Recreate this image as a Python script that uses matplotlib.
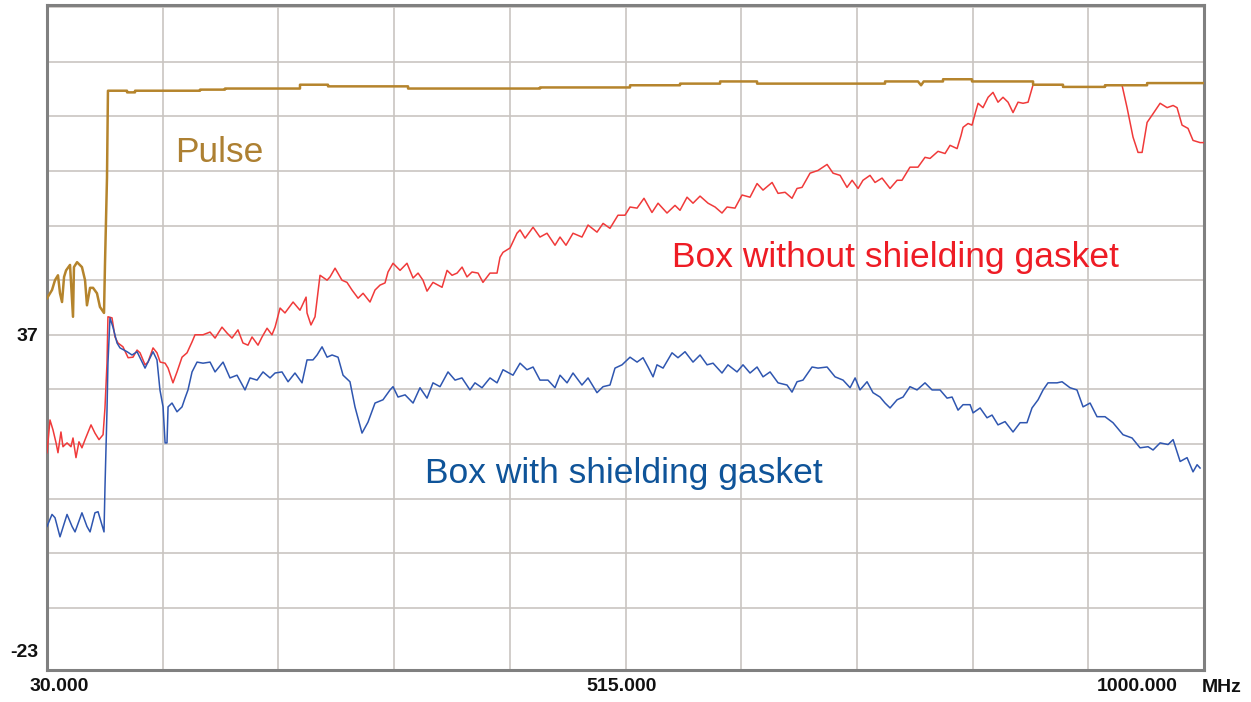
import numpy as np
from matplotlib import pyplot as plt
from matplotlib import transforms


## data (frequency in MHz, level in dB)
pulseFreq = [30.0, 34.2, 36.7, 39.2, 40.9, 42.6, 44.3, 46.0, 49.3, 51.8, 52.6, 55.2, 59.3, 61.9,
             63.5, 66.1, 68.6, 71.9, 74.4, 77.8, 78.6, 80.3, 81.1,
             97.1, 97.1, 103.8, 103.8, 158.3, 158.3, 179.2, 179.2, 242.1, 242.1, 265.6, 265.6,
             332.7, 332.7, 443.3, 443.3, 518.8, 518.8, 560.7, 560.7, 594.3, 594.3, 625.3, 625.3,
             732.6, 732.6, 760.2, 762.8, 765.0, 781.2, 781.2, 805.5, 805.5, 856.7, 856.7,
             881.8, 881.8, 917.0, 917.0, 952.3, 952.3, 1000.0]
pulseLevel = [43.7, 45.2, 47.0, 47.9, 44.6, 43.0, 47.6, 48.8, 49.8, 40.3, 49.4, 50.3, 49.4, 47.0,
              42.4, 45.6, 45.6, 44.6, 42.1, 41.0, 49.8, 65.8, 81.7,
              81.7, 81.4, 81.4, 81.7, 81.7, 81.9, 81.9, 82.1, 82.1, 82.8, 82.8, 82.5,
              82.5, 82.1, 82.1, 82.3, 82.3, 82.7, 82.7, 83.0, 83.0, 83.4, 83.4, 83.0,
              83.0, 83.4, 83.4, 82.7, 83.4, 83.4, 83.8, 83.8, 83.4, 83.4, 82.8,
              82.8, 82.4, 82.4, 82.7, 82.7, 83.1, 83.1]

redFreq = [30.0, 32.5, 35.0, 37.6, 39.2, 41.7, 43.4, 46.8, 50.1, 51.8, 54.3, 56.8, 59.3, 61.9,
           66.9, 70.2, 73.6, 77.0, 78.6, 80.3, 81.1, 84.5, 87.0, 89.5, 93.7, 98.0, 102.1, 105.5,
           108.0, 112.2, 114.7, 118.9, 122.2, 124.9, 129.0, 131.5, 135.6, 139.0, 143.2, 147.4,
           151.6, 154.1, 160.8, 166.7, 170.9, 176.7, 181.0, 185.1, 190.1, 194.3, 198.5, 201.9,
           206.9, 210.3, 214.5, 218.6, 221.2, 225.4, 229.5, 236.3, 242.1, 247.2, 248.0, 251.3,
           254.7, 258.9, 264.8, 267.3, 271.5, 277.3, 281.5, 285.7, 290.8, 295.0, 300.8, 305.0,
           309.2, 313.4, 315.9, 320.1, 326.0, 331.8, 336.9, 341.1, 345.2, 348.6, 353.6, 361.2,
           365.4, 369.6, 373.8, 378.0, 382.1, 386.3, 391.4, 395.5, 401.4, 407.3, 409.8, 412.3,
           418.2, 424.0, 426.6, 430.8, 437.5, 443.3, 449.2, 455.9, 460.1, 465.1, 471.0, 478.5,
           483.6, 491.1, 496.2, 502.0, 508.7, 514.6, 518.8, 524.7, 530.5, 537.2, 542.3, 549.8,
           556.5, 560.7, 566.6, 571.6, 577.5, 584.2, 590.1, 595.9, 600.1, 606.8, 612.7, 619.4,
           625.3, 630.3, 637.9, 642.9, 648.8, 654.6, 658.8, 663.0, 669.7, 676.4, 684.0, 689.0,
           694.9, 700.7, 705.0, 710.0, 714.1, 720.0, 724.2, 730.1, 736.8, 742.7, 746.8, 753.5,
           760.2, 766.1, 770.3, 777.0, 782.9, 787.1, 793.0, 796.3, 798.0, 802.2, 805.5, 808.1,
           810.6, 814.7, 819.0, 823.1, 827.3, 831.5, 835.7, 839.9, 844.1, 848.3, 852.5, 856.7,
           881.8, 881.8, 917.0, 917.0, 929.6, 931.3, 935.5, 940.5, 944.7, 948.1, 952.3, 956.4,
           963.2, 969.1, 974.1, 977.4, 981.6, 986.6, 990.8, 996.7, 1000.0]
redLevel = [15.4, 21.4, 19.6, 17.2, 15.4, 19.2, 16.5, 17.2, 16.5, 18.1, 14.5, 17.4, 16.3, 17.8,
            20.5, 19.0, 17.8, 18.7, 23.6, 31.8, 40.3, 40.1, 36.6, 35.5, 34.8, 32.8, 32.9, 34.2,
            33.7, 31.5, 32.0, 34.6, 33.7, 32.0, 31.8, 30.9, 28.2, 30.2, 32.9, 33.7,
            35.7, 37.0, 37.0, 37.5, 36.4, 38.4, 37.3, 36.4, 37.9, 35.5, 35.1, 36.6,
            35.1, 36.6, 38.2, 37.0, 38.4, 41.9, 41.0, 43.0, 41.5, 43.9, 41.0, 38.8,
            40.3, 47.9, 47.0, 47.6, 49.2, 47.0, 46.6, 45.2, 43.7, 44.6, 43.0, 45.2,
            46.1, 46.5, 48.5, 50.1, 48.8, 50.1, 47.4, 48.3, 47.0, 45.0, 46.6, 45.7,
            48.8, 47.9, 48.3, 49.4, 47.6, 48.5, 48.3, 46.6, 48.3, 48.3, 51.2, 52.1,
            52.9, 55.6, 56.2, 54.7, 56.7, 54.9, 55.6, 53.4, 54.9, 53.4, 55.6, 54.9,
            57.1, 55.8, 57.4, 56.5, 58.9, 58.9, 60.4, 60.2, 62.0, 59.4, 61.1, 59.3,
            60.7, 59.8, 62.2, 61.1, 62.4, 61.1, 60.4, 59.3, 60.4, 60.2, 62.6, 62.2,
            64.7, 63.5, 64.9, 62.9, 63.1, 62.0, 63.8, 64.0, 66.6, 67.1, 68.2, 66.6,
            66.2, 64.0, 65.3, 63.8, 65.3, 66.2, 64.9, 65.7, 63.8, 65.3, 65.3, 67.7,
            67.7, 69.5, 69.3, 70.6, 70.2, 71.7, 71.1, 73.5, 75.0, 75.7, 75.4, 77.5,
            79.4, 78.6, 80.5, 81.4, 79.6, 80.5, 79.6, 77.7, 79.6, 79.4, 79.6, 82.8,
            82.8, 82.4, 82.4, 82.7, 82.7, 82.7, 78.6, 73.2, 70.4, 70.4, 75.9, 77.2,
            79.4, 78.6, 79.0, 78.6, 75.4, 74.8, 72.6, 72.2, 72.2]

blueFreq = [30.0, 34.2, 36.7, 40.9, 46.8, 51.0, 53.5, 59.3, 63.5, 66.1, 70.2, 72.8, 76.1, 77.8,
            78.6, 80.3, 81.1, 82.8, 85.3, 88.7, 91.2, 97.1, 101.3, 105.5, 109.7, 112.2, 116.4,
            118.9, 122.2, 124.7, 127.3, 129.0, 130.6, 131.5, 134.8, 139.0, 143.2, 145.7, 148.2,
            151.6, 155.8, 160.8, 166.7, 170.9, 177.6, 183.4, 189.3, 196.0, 200.2, 206.1, 211.1,
            217.0, 221.2, 227.0, 232.1, 237.9, 243.8, 248.0, 253.0, 256.4, 260.6, 264.8, 269.0,
            274.0, 278.2, 284.0, 288.2, 294.1, 299.1, 305.0, 311.7, 317.6, 320.1, 324.3, 330.2,
            336.9, 342.7, 348.6, 353.6, 359.5, 366.2, 372.1, 377.9, 384.6, 388.8, 394.7, 401.4,
            407.3, 412.3, 415.7, 420.7, 426.6, 432.4, 437.5, 443.3, 450.0, 455.9, 460.1, 466.0,
            471.0, 478.5, 483.6, 491.1, 496.2, 502.0, 506.2, 512.1, 518.8, 524.7, 529.7, 533.9,
            538.1, 541.4, 546.5, 554.0, 559.0, 564.9, 571.6, 577.5, 583.4, 588.4, 595.9, 600.9,
            608.5, 613.5, 619.4, 625.3, 630.3, 636.2, 642.9, 650.4, 654.6, 658.8, 663.8, 671.4,
            676.4, 684.0, 690.7, 697.4, 703.3, 707.5, 711.6, 717.5, 722.5, 728.4, 732.6, 736.8,
            742.7, 747.7, 753.5, 759.4, 766.1, 772.0, 778.7, 784.6, 788.8, 793.8, 798.0, 803.9,
            806.4, 812.3, 818.1, 822.3, 827.3, 833.2, 839.9, 845.8, 851.6, 855.8, 860.9, 865.1,
            869.2, 876.8, 881.0, 887.7, 893.5, 898.6, 904.5, 910.3, 917.0, 923.7, 932.1, 939.7,
            946.4, 953.1, 957.3, 963.2, 969.9, 974.1, 980.0, 985.8, 990.8, 994.2, 996.7]
blueLevel = [1.9, 4.1, 3.5, 0.0, 4.1, 1.9, 0.9, 4.4, 1.9, 0.9, 4.4, 4.6, 2.2, 0.9,
             9.0, 23.2, 31.8, 40.1, 38.4, 35.5, 34.6, 33.9, 33.3, 33.9, 32.0, 30.9, 32.8,
             33.9, 32.4, 26.9, 23.8, 17.2, 17.2, 23.8, 24.5, 22.9, 23.8, 25.4, 26.9,
             30.2, 32.0, 31.8, 32.0, 30.2, 32.0, 29.1, 29.6, 26.9, 29.1, 28.7, 30.2,
             29.1, 30.0, 30.2, 28.4, 30.0, 28.2, 32.4, 32.4, 33.3, 34.8, 32.9, 33.3,
             32.9, 29.6, 28.4, 23.8, 19.0, 21.0, 24.5, 25.1, 26.9, 27.5, 25.6, 26.0,
             24.5, 27.3, 25.4, 28.2, 27.5, 30.2, 28.7, 29.1, 26.9, 28.2, 27.3, 29.1,
             28.2, 30.6, 30.2, 29.6, 31.8, 30.6, 31.1, 28.7, 28.7, 27.3, 29.6, 28.2,
             30.0, 27.8, 29.1, 26.4, 27.5, 27.8, 30.9, 31.5, 32.9, 32.0, 32.8, 31.1,
             29.3, 31.5, 30.9, 33.7, 32.8, 33.9, 32.0, 33.3, 31.5, 31.8, 30.0, 31.5,
             30.2, 31.5, 30.0, 31.1, 29.3, 30.2, 28.2, 27.8, 26.5, 28.4, 28.7, 31.1,
             30.9, 31.1, 29.3, 28.7, 27.3, 29.1, 26.9, 28.4, 26.4, 25.6, 24.5, 23.6,
             25.1, 25.6, 27.5, 26.9, 28.2, 26.9, 26.9, 25.4, 25.6, 23.2, 24.2, 24.2,
             22.7, 23.6, 21.8, 22.3, 20.5, 21.1, 19.2, 20.9, 20.9, 23.6, 25.1, 26.9,
             28.2, 28.2, 28.4, 27.3, 26.9, 23.8, 24.5, 22.0, 22.0, 20.9, 18.7, 18.1,
             16.3, 16.5, 15.9, 17.2, 16.9, 17.8, 13.8, 14.5, 11.9, 13.2, 12.6]

xTicks = [30, 127, 224, 321, 418, 515, 612, 709, 806, 903, 1000]
xTickLabels = ['30.000', '', '', '', '', '515.000', '', '', '', '', '1000.000']
yTicks = [-23, -13, -3, 7, 17, 27, 37, 47, 57, 67, 77, 87, 97]
yTickLabels = ['-23', '', '', '', '', '', '37', '', '', '', '', '', '']


## figure
fig = plt.figure(figsize=(12.51, 7.02), dpi=100)
ax = fig.add_axes([47/1251, 1 - 669.5/702, (1204 - 47)/1251, (669.5 - 5)/702])
ax.set_xlim(30, 1000)
ax.set_ylim(-24.3, 97.4)

gridColor = '#c9c5c1'
ax.set_xticks(xTicks)
ax.set_xticklabels(xTickLabels)
ax.set_yticks(yTicks)
ax.set_yticklabels(yTickLabels)
ax.grid(True, color=gridColor, linewidth=1.2)
ax.get_ygridlines()[0].set_visible(False)
ax.set_axisbelow(True)
ax.tick_params(length=0, labelsize=14, pad=6)
for lab in ax.get_xticklabels() + ax.get_yticklabels():
    lab.set_fontfamily('Liberation Sans')
    lab.set_fontweight('bold')
    lab.set_color('#111111')

# nudge tick labels like the analyser software does
xLabs = ax.get_xticklabels()
xLabs[0].set_ha('left')
xLabs[0].set_transform(xLabs[0].get_transform() + transforms.ScaledTranslation(-17/100, 0, fig.dpi_scale_trans))
xLabs[5].set_transform(xLabs[5].get_transform() + transforms.ScaledTranslation(-4/100, 0, fig.dpi_scale_trans))
xLabs[10].set_ha('right')
xLabs[10].set_transform(xLabs[10].get_transform() + transforms.ScaledTranslation(-26/100, 0, fig.dpi_scale_trans))
yLabs = ax.get_yticklabels()
yLabs[0].set_transform(yLabs[0].get_transform() + transforms.ScaledTranslation(0, 12/100, fig.dpi_scale_trans))

for spine in ax.spines.values():
    spine.set_color('#808080')
    spine.set_linewidth(2.2)

ax.annotate('MHz', xy=(1, 0), xycoords='axes fraction', xytext=(-2, -9),
            textcoords='offset pixels', ha='left', va='top', fontsize=14,
            fontweight='bold', family='Liberation Sans', color='#111111')

# traces
ax.plot(redFreq, redLevel, color='#f03a3a', linewidth=1.1, zorder=3)
ax.plot(blueFreq, blueLevel, color='#2f56b0', linewidth=1.1, zorder=3)
ax.plot(pulseFreq, pulseLevel, color='#b5842c', linewidth=1.8, zorder=4)

# labels
ax.text(137.3, 70.4, 'Pulse', color='#ad8032', fontsize=25.5, family='Liberation Sans',
        ha='left', va='center')
ax.text(554.0, 51.2, 'Box without shielding gasket', color='#ee1c25', fontsize=25.5,
        family='Liberation Sans', ha='left', va='center')
ax.text(346.9, 11.6, 'Box with shielding gasket', color='#0f5499', fontsize=25.5,
        family='Liberation Sans', ha='left', va='center')

fig.savefig('out.png', dpi=100)
